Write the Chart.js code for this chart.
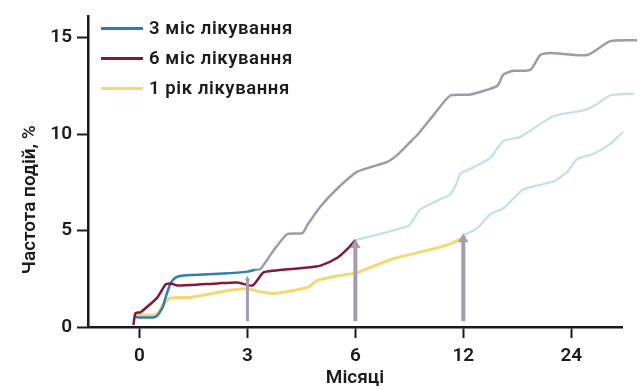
<!DOCTYPE html>
<html>
<head>
<meta charset="utf-8">
<script src="https://cdn.jsdelivr.net/npm/chart.js@4.4.0/dist/chart.umd.min.js"></script>
<style>
html,body{margin:0;padding:0;background:#fff;}
#wrap{position:relative;width:642px;height:390px;overflow:hidden;}
#c{position:absolute;left:0;top:0;}
#legend{position:absolute;left:101px;top:13px;}
.row{position:relative;height:30px;display:flex;align-items:center;}
.sw{width:42px;height:3px;margin-right:6px;}
.lt{font:600 18.5px Roboto, sans-serif;color:#1b1b1b;white-space:nowrap;letter-spacing:0.6px;}
</style>
</head>
<body>
<div id="wrap">
<canvas id="c" width="642" height="390"></canvas>
<div id="legend"></div>
</div>
<script>
// ---- data ----
const tickMonths = [0, 3, 6, 12, 24];
const tickLabels = ["0", "3", "6", "12", "24"];
const yTicks = [0, 5, 10, 15];
const seriesNames = ["3 міс лікування", "6 міс лікування", "1 рік лікування"];
const xTitle = "Місяці";
const yTitle = "Частота подій, %";

const m3Months = [-0.11, 0.44, 0.64, 0.72, 0.86, 1.0, 1.22, 2.33, 3.0, 3.22];
const m3Values = [0.5, 0.52, 1.0, 1.5, 2.25, 2.56, 2.67, 2.77, 2.87, 2.97];

const m3AfterMonths = [3.22, 3.36, 3.72, 4.11, 4.53, 4.67, 5.03, 5.5, 6.11, 7.78, 8.33, 9.05, 9.44, 10.33, 11.28, 12.78, 15.78, 16.44, 17.56, 19.44, 20.56, 21.67, 25.78, 28.33, 31.33];
const m3AfterValues = [2.97, 3.0, 3.95, 4.82, 4.87, 5.3, 6.25, 7.18, 8.05, 8.56, 8.92, 9.59, 9.95, 10.97, 12.0, 12.05, 12.5, 13.08, 13.28, 13.33, 14.1, 14.2, 14.1, 14.82, 14.87];

const m6Months = [-0.17, -0.11, 0.03, 0.5, 0.72, 0.86, 1.06, 2.17, 2.72, 3.14, 3.44, 3.72, 4.67, 5.03, 5.5, 5.78, 6.0];
const m6Values = [0.1, 0.72, 0.77, 1.54, 2.2, 2.26, 2.15, 2.26, 2.31, 2.15, 2.82, 2.92, 3.08, 3.18, 3.59, 4.05, 4.5];

const m6AfterMonths = [6.0, 7.56, 8.94, 9.17, 9.61, 10.72, 11.28, 11.67, 11.83, 12.78, 15.0, 16.44, 18.33, 22.0, 25.33, 26.44, 28.33, 31.0];
const m6AfterValues = [4.5, 4.87, 5.23, 5.49, 6.1, 6.62, 6.87, 7.54, 7.95, 8.2, 8.77, 9.64, 9.85, 10.92, 11.23, 11.44, 12.0, 12.1];

const y1Months = [-0.17, 0.39, 0.53, 0.64, 0.86, 1.42, 2.53, 3.0, 3.28, 3.72, 4.67, 4.94, 5.58, 6.11, 6.67, 8.11, 10.33, 11.28, 11.94, 12.0];
const y1Values = [0.62, 0.62, 0.77, 1.13, 1.49, 1.54, 1.9, 2.0, 1.85, 1.74, 2.05, 2.41, 2.67, 2.82, 3.03, 3.54, 4.05, 4.31, 4.62, 4.75];

const y1AfterMonths = [12.0, 13.56, 15.0, 16.44, 18.67, 22.0, 23.56, 24.67, 26.44, 28.33, 29.78, 31.0];
const y1AfterValues = [4.75, 5.13, 5.85, 6.15, 7.13, 7.54, 8.05, 8.72, 8.97, 9.49, 10.1, 10.2];

const arrowMonths = [3, 6, 12];
const arrowBase = 0.3;
const arrowTops = [2.5, 4.25, 4.55];

// ---- styling ----
const colors = ['#2f7db3', '#7e1a3c', '#f6d870'];
const greyCol = '#9b9bac';
const lightBlue = '#c0e0ec';
const arrowCol = '#a39cb3';
const axisCol = '#1b1b1b';
const fontFam = 'Roboto';

// the month axis is stretched: ticks 0,3,6,12,24 are evenly spaced
function monthToPos(m) {
  const t = tickMonths;
  if (m <= t[1]) return (m - t[0]) / (t[1] - t[0]);
  for (let i = 1; i < t.length - 1; i++) {
    if (m <= t[i + 1]) return i + (m - t[i]) / (t[i + 1] - t[i]);
  }
  const n = t.length - 1;
  return n - 1 + (m - t[n - 1]) / (t[n] - t[n - 1]);
}
const pts = (ms, vs) => ms.map((m, i) => ({x: monthToPos(m), y: vs[i]}));

const lineDs = (label, ms, vs, color, width, order) => ({
  label, data: pts(ms, vs), borderColor: color, backgroundColor: color,
  borderWidth: width, pointRadius: 0, tension: 0.2, clip: false, fill: false, order
});

const datasets = [
  lineDs(seriesNames[0], m3Months, m3Values, colors[0], 2.5, 3),
  lineDs(seriesNames[1], m6Months, m6Values, colors[1], 2.5, 2),
  lineDs(seriesNames[2], y1Months, y1Values, colors[2], 3, 4),
  lineDs('', m3AfterMonths, m3AfterValues, greyCol, 2.5, 5),
  lineDs('', m6AfterMonths, m6AfterValues, lightBlue, 2.2, 6),
  lineDs('', y1AfterMonths, y1AfterValues, lightBlue, 2.2, 6),
];
arrowMonths.forEach((m, i) => {
  datasets.push({
    label: '', data: [{x: monthToPos(m), y: arrowBase}, {x: monthToPos(m), y: arrowTops[i]}],
    borderColor: arrowCol, backgroundColor: arrowCol, borderWidth: i === 0 ? 3 : 4,
    pointRadius: [0, i === 0 ? 3 : 6], pointStyle: 'triangle', pointBorderWidth: 0,
    pointBackgroundColor: arrowCol, tension: 0, clip: false, order: 1
  });
});

const yTitlePlugin = {
  id: 'yTitle',
  afterDraw(chart) {
    const ctx = chart.ctx;
    const a = chart.chartArea;
    ctx.save();
    ctx.translate(30, (a.top + a.bottom) / 2 + 28);
    ctx.rotate(-Math.PI / 2);
    ctx.font = '600 19px ' + fontFam + ', sans-serif';
    ctx.fillStyle = axisCol;
    ctx.textAlign = 'center';
    ctx.textBaseline = 'middle';
    ctx.fillText(yTitle, 0, 0);
    ctx.restore();
  }
};

const tickFont = {family: fontFam, size: 19, weight: '600'};

new Chart(document.getElementById('c'), {
  type: 'line',
  data: {datasets},
  plugins: [yTitlePlugin],
  options: {
    responsive: false,
    devicePixelRatio: 1,
    animation: false,
    layout: {padding: {top: 13, right: 20, left: 0, bottom: 0}},
    plugins: {legend: {display: false}, tooltip: {enabled: false}},
    scales: {
      x: {
        type: 'linear', min: -0.477, max: 4.47,
        afterBuildTicks(s) { s.ticks = tickLabels.map((_, i) => ({value: i})); },
        afterFit(s) { s.height = 63; },
        border: {color: axisCol, width: 2.5},
        grid: {drawOnChartArea: false, drawTicks: true, tickLength: 11, tickWidth: 2, tickColor: axisCol},
        ticks: {
          callback: (v) => tickLabels[Math.round(v)] ?? '',
          font: tickFont, color: axisCol, padding: 7, maxRotation: 0
        },
        title: {display: true, text: xTitle, font: tickFont, color: axisCol, padding: {top: 5, bottom: 0}}
      },
      y: {
        type: 'linear', min: 0, max: 16.1,
        afterBuildTicks(s) { s.ticks = yTicks.map(v => ({value: v})); },
        afterFit(s) { s.width = 88; },
        border: {color: axisCol, width: 2.5},
        grid: {drawOnChartArea: false, drawTicks: true, tickLength: 11, tickWidth: 2, tickColor: axisCol},
        ticks: {font: tickFont, color: axisCol, padding: 5}
      }
    }
  }
});

// legend (real text)
const leg = document.getElementById('legend');
seriesNames.forEach((n, i) => {
  const r = document.createElement('div');
  r.className = 'row';
  const sw = document.createElement('div');
  sw.className = 'sw';
  sw.style.background = colors[i];
  const t = document.createElement('span');
  t.className = 'lt';
  t.textContent = n;
  r.appendChild(sw); r.appendChild(t);
  leg.appendChild(r);
});
</script>
</body>
</html>
